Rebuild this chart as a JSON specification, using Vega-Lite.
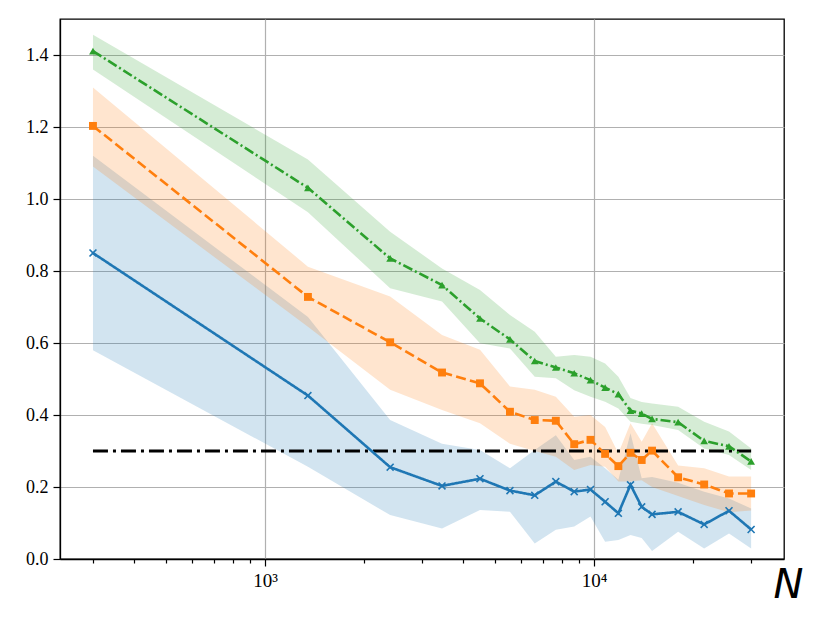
{
  "$schema": "https://vega.github.io/schema/vega-lite/v6.json",
  "autosize": {"type": "none"},
  "padding": {"left": 60, "top": 19, "right": 46, "bottom": 64},
  "width": 724,
  "height": 540,
  "background": "white",
  "config": {
    "view": {"stroke": "black", "strokeWidth": 1.3},
    "axis": {
      "domainColor": "black",
      "domainWidth": 1.3,
      "tickColor": "black",
      "tickWidth": 1.2,
      "gridColor": "#b0b0b0",
      "gridWidth": 1.2
    }
  },
  "datasets": {
    "series": [
      {"s": "S1", "N": 300, "v": 0.850, "lo": 0.580, "hi": 1.120},
      {"s": "S1", "N": 1350, "v": 0.454, "lo": 0.256, "hi": 0.672},
      {"s": "S1", "N": 2400, "v": 0.255, "lo": 0.122, "hi": 0.386},
      {"s": "S1", "N": 3450, "v": 0.203, "lo": 0.085, "hi": 0.320},
      {"s": "S1", "N": 4500, "v": 0.223, "lo": 0.136, "hi": 0.303},
      {"s": "S1", "N": 5550, "v": 0.190, "lo": 0.131, "hi": 0.252},
      {"s": "S1", "N": 6600, "v": 0.177, "lo": 0.043, "hi": 0.303},
      {"s": "S1", "N": 7650, "v": 0.215, "lo": 0.081, "hi": 0.344},
      {"s": "S1", "N": 8700, "v": 0.187, "lo": 0.090, "hi": 0.275},
      {"s": "S1", "N": 9750, "v": 0.193, "lo": 0.118, "hi": 0.284},
      {"s": "S1", "N": 10800, "v": 0.159, "lo": 0.048, "hi": 0.252},
      {"s": "S1", "N": 11850, "v": 0.127, "lo": 0.053, "hi": 0.220},
      {"s": "S1", "N": 12900, "v": 0.206, "lo": 0.067, "hi": 0.349},
      {"s": "S1", "N": 13950, "v": 0.145, "lo": 0.058, "hi": 0.224},
      {"s": "S1", "N": 15000, "v": 0.124, "lo": 0.022, "hi": 0.228},
      {"s": "S1", "N": 18000, "v": 0.131, "lo": 0.076, "hi": 0.212},
      {"s": "S1", "N": 21600, "v": 0.096, "lo": 0.029, "hi": 0.187},
      {"s": "S1", "N": 25700, "v": 0.134, "lo": 0.071, "hi": 0.168},
      {"s": "S1", "N": 30000, "v": 0.082, "lo": 0.029, "hi": 0.140},
      {"s": "S2", "N": 300, "v": 1.203, "lo": 1.090, "hi": 1.310},
      {"s": "S2", "N": 1350, "v": 0.728, "lo": 0.645, "hi": 0.812},
      {"s": "S2", "N": 2400, "v": 0.602, "lo": 0.470, "hi": 0.729},
      {"s": "S2", "N": 3450, "v": 0.518, "lo": 0.414, "hi": 0.622},
      {"s": "S2", "N": 4500, "v": 0.488, "lo": 0.377, "hi": 0.581},
      {"s": "S2", "N": 5550, "v": 0.409, "lo": 0.320, "hi": 0.479},
      {"s": "S2", "N": 6600, "v": 0.386, "lo": 0.300, "hi": 0.470},
      {"s": "S2", "N": 7650, "v": 0.384, "lo": 0.284, "hi": 0.451},
      {"s": "S2", "N": 8700, "v": 0.319, "lo": 0.247, "hi": 0.395},
      {"s": "S2", "N": 9750, "v": 0.331, "lo": 0.261, "hi": 0.400},
      {"s": "S2", "N": 10800, "v": 0.292, "lo": 0.256, "hi": 0.367},
      {"s": "S2", "N": 11850, "v": 0.258, "lo": 0.215, "hi": 0.294},
      {"s": "S2", "N": 12900, "v": 0.295, "lo": 0.215, "hi": 0.377},
      {"s": "S2", "N": 13950, "v": 0.275, "lo": 0.219, "hi": 0.326},
      {"s": "S2", "N": 15000, "v": 0.301, "lo": 0.200, "hi": 0.377},
      {"s": "S2", "N": 18000, "v": 0.227, "lo": 0.175, "hi": 0.260},
      {"s": "S2", "N": 21600, "v": 0.207, "lo": 0.150, "hi": 0.252},
      {"s": "S2", "N": 25700, "v": 0.182, "lo": 0.130, "hi": 0.229},
      {"s": "S2", "N": 30000, "v": 0.182, "lo": 0.135, "hi": 0.229},
      {"s": "S3", "N": 300, "v": 1.411, "lo": 1.360, "hi": 1.456},
      {"s": "S3", "N": 1350, "v": 1.031, "lo": 0.963, "hi": 1.110},
      {"s": "S3", "N": 2400, "v": 0.835, "lo": 0.752, "hi": 0.909},
      {"s": "S3", "N": 3450, "v": 0.761, "lo": 0.715, "hi": 0.807},
      {"s": "S3", "N": 4500, "v": 0.668, "lo": 0.599, "hi": 0.747},
      {"s": "S3", "N": 5550, "v": 0.610, "lo": 0.585, "hi": 0.678},
      {"s": "S3", "N": 6600, "v": 0.550, "lo": 0.506, "hi": 0.631},
      {"s": "S3", "N": 7650, "v": 0.532, "lo": 0.502, "hi": 0.562},
      {"s": "S3", "N": 8700, "v": 0.516, "lo": 0.469, "hi": 0.567},
      {"s": "S3", "N": 9750, "v": 0.497, "lo": 0.451, "hi": 0.562},
      {"s": "S3", "N": 10800, "v": 0.476, "lo": 0.437, "hi": 0.543},
      {"s": "S3", "N": 11850, "v": 0.458, "lo": 0.418, "hi": 0.506},
      {"s": "S3", "N": 12900, "v": 0.412, "lo": 0.381, "hi": 0.447},
      {"s": "S3", "N": 13950, "v": 0.404, "lo": 0.376, "hi": 0.436},
      {"s": "S3", "N": 15000, "v": 0.389, "lo": 0.372, "hi": 0.432},
      {"s": "S3", "N": 18000, "v": 0.380, "lo": 0.358, "hi": 0.423},
      {"s": "S3", "N": 21600, "v": 0.328, "lo": 0.307, "hi": 0.381},
      {"s": "S3", "N": 25700, "v": 0.313, "lo": 0.289, "hi": 0.354},
      {"s": "S3", "N": 30000, "v": 0.271, "lo": 0.247, "hi": 0.307}
    ],
    "ref": [
      {"N": 300, "y": 0.3},
      {"N": 30000, "y": 0.3}
    ]
  },
  "encoding": {
    "x": {
      "field": "N",
      "type": "quantitative",
      "scale": {"type": "log", "domain": [238.2, 37760], "nice": false},
      "axis": {
        "title": "N",
        "titleFont": "DejaVu Sans",
        "titleFontStyle": "italic",
        "titleFontWeight": "normal",
        "titleFontSize": 40,
        "titleColor": "black",
        "titleAlign": "right",
        "titleBaseline": "alphabetic",
        "titleAnchor": null,
        "titleX": 743,
        "titleY": 38,
        "values": [300, 400, 500, 600, 700, 800, 900, 1000, 2000, 3000, 4000, 5000, 6000, 7000, 8000, 9000, 10000, 20000, 30000],
        "labelExpr": "datum.value == 1000 ? '10³' : (datum.value == 10000 ? '10⁴' : '')",
        "labelFont": "Liberation Serif",
        "labelFontSize": 19,
        "labelColor": "black",
        "labelOverlap": false,
        "labelPadding": 5,
        "grid": true,
        "gridOpacity": {"condition": {"test": "datum.value == 1000 || datum.value == 10000", "value": 1}, "value": 0},
        "tickSize": {"condition": {"test": "datum.value == 1000 || datum.value == 10000", "value": 7}, "value": 4}
      }
    }
  },
  "layer": [
    {
      "data": {"name": "series"},
      "mark": {"type": "area", "opacity": 0.2},
      "encoding": {
        "y": {
          "field": "lo",
          "type": "quantitative",
          "scale": {"domain": [0, 1.5], "nice": false},
          "axis": {
            "title": null,
            "values": [0, 0.2, 0.4, 0.6, 0.8, 1.0, 1.2, 1.4],
            "format": ".1f",
            "grid": true,
            "tickSize": 7,
            "labelFont": "Liberation Serif",
            "labelFontSize": 18,
            "labelColor": "black",
            "labelPadding": 5
          }
        },
        "y2": {"field": "hi"},
        "color": {
          "field": "s",
          "type": "nominal",
          "scale": {"domain": ["S1", "S2", "S3"], "range": ["#1f77b4", "#ff7f0e", "#2ca02c"]},
          "legend": null
        }
      }
    },
    {
      "data": {"name": "ref"},
      "mark": {"type": "line", "color": "black", "strokeWidth": 2.8, "strokeDash": [15, 5, 3, 5]},
      "encoding": {
        "y": {"field": "y", "type": "quantitative"}
      }
    },
    {
      "data": {"name": "series"},
      "mark": {"type": "line", "strokeWidth": 2.6},
      "encoding": {
        "y": {"field": "v", "type": "quantitative"},
        "color": {"field": "s", "type": "nominal", "legend": null},
        "strokeDash": {
          "field": "s",
          "type": "nominal",
          "scale": {"domain": ["S1", "S2", "S3"], "range": [[1, 0], [10, 4.3], [10, 3, 2, 3]]},
          "legend": null
        }
      }
    },
    {
      "data": {"name": "series"},
      "mark": {"type": "point", "filled": true, "opacity": 1},
      "encoding": {
        "y": {"field": "v", "type": "quantitative"},
        "color": {"field": "s", "type": "nominal", "legend": null},
        "shape": {
          "field": "s",
          "type": "nominal",
          "scale": {
            "domain": ["S1", "S2", "S3"],
            "range": ["M-1,-0.72L-0.72,-1L0,-0.28L0.72,-1L1,-0.72L0.28,0L1,0.72L0.72,1L0,0.28L-0.72,1L-1,0.72L-0.28,0Z", "square", "triangle-up"]
          },
          "legend": null
        },
        "size": {
          "field": "s",
          "type": "nominal",
          "scale": {"domain": ["S1", "S2", "S3"], "range": [65, 60, 120]},
          "legend": null
        }
      }
    }
  ]
}
